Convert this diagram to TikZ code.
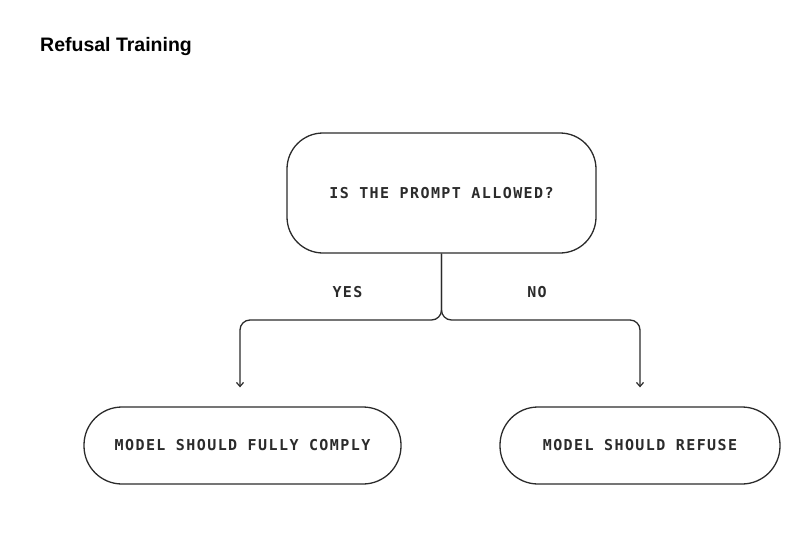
\documentclass[tikz,border=0pt]{standalone}
\usepackage{fontspec}
\setmainfont{Liberation Sans}
\newfontfamily\boxfont[LetterSpace=9.5]{DejaVu Sans Mono}
\usetikzlibrary{arrows.meta}
\definecolor{ink}{HTML}{2B2B2B}
\tikzset{
  x=1pt, y=-1pt,
  box/.style={draw=ink, line width=1.3pt, align=center, inner sep=0pt,
    font=\boxfont\bfseries\fontsize{15}{17}\selectfont, text=ink},
  conn/.style={draw=ink, line width=1.3pt, rounded corners=10pt,
    -{Straight Barb[length=4pt,width=7pt,line width=1.2pt]}, shorten >=19pt},
  lbl/.style={font=\boxfont\bfseries\fontsize{15}{17}\selectfont, text=ink}
}
\begin{document}
\begin{tikzpicture}
\useasboundingbox (0,0) rectangle (800,538);
\node[anchor=base west, inner sep=0pt, font=\bfseries\fontsize{19.5}{23}\selectfont, text=black] (title) at (40,51) {Refusal Training};
\node[box, rounded corners=36pt, minimum width=309pt, minimum height=120pt] (q) at (441.5,193) {IS THE PROMPT ALLOWED?};
\node[box, rounded corners=38pt, minimum width=317pt, minimum height=77pt] (yes) at (242.5,445.5) {MODEL SHOULD FULLY COMPLY};
\node[box, rounded corners=38pt, minimum width=280pt, minimum height=77pt] (no) at (640,445.5) {MODEL SHOULD REFUSE};
\coordinate (lmid) at (240,320);
\coordinate (rmid) at (640,320);
\draw[conn] (q.south) |- (lmid) -- (yes.north -| lmid);
\draw[conn] (q.south) |- (rmid) -- (no.north);
\node[lbl] (ylbl) at (347.5,292) {YES};
\node[lbl] (nlbl) at (537,292) {NO};
\end{tikzpicture}
\end{document}
